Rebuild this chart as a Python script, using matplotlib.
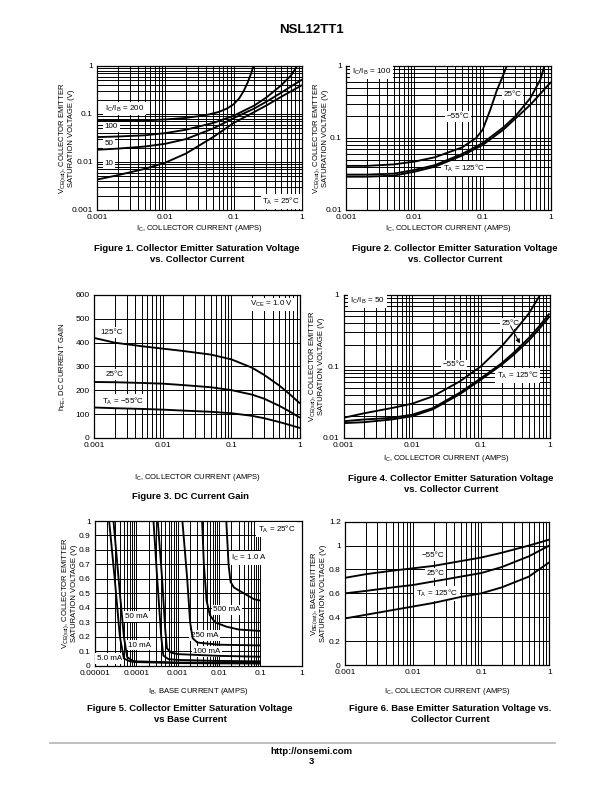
import numpy as np
import matplotlib.pyplot as plt
from matplotlib.ticker import LogLocator, NullFormatter

plt.rcParams['font.family'] = ['Liberation Sans', 'DejaVu Sans']
plt.rcParams['mathtext.default'] = 'regular'

# ---- Figure 1: VCE(sat) vs IC for several IC/IB, TA = 25C
f1_ic_200 = [0.001, 0.002, 0.005, 0.01, 0.02, 0.04, 0.06, 0.08, 0.1, 0.12, 0.14, 0.16, 0.18, 0.195]
f1_v_200 = [0.072, 0.072, 0.074, 0.077, 0.083, 0.095, 0.11, 0.13, 0.16, 0.21, 0.3, 0.45, 0.7, 1.0]
f1_ic_100 = [0.001, 0.002, 0.005, 0.01, 0.02, 0.05, 0.1, 0.2, 0.3, 0.5, 0.7, 0.85]
f1_v_100 = [0.033, 0.034, 0.036, 0.04, 0.047, 0.065, 0.092, 0.15, 0.22, 0.4, 0.65, 1.0]
f1_ic = [0.001, 0.002, 0.005, 0.01, 0.02, 0.05, 0.1, 0.2, 0.3, 0.5, 0.7, 1.0]
f1_v_50 = [0.018, 0.019, 0.021, 0.024, 0.03, 0.05, 0.082, 0.13, 0.18, 0.28, 0.38, 0.52]
f1_v_10 = [0.0043, 0.0053, 0.0072, 0.0097, 0.015, 0.033, 0.065, 0.11, 0.15, 0.23, 0.3, 0.4]

# ---- Figure 2: VCE(sat) vs IC, IC/IB = 100
f2_ic_m55 = [0.001, 0.002, 0.005, 0.01, 0.02, 0.05, 0.08, 0.1, 0.13, 0.16, 0.2, 0.225]
f2_v_m55 = [0.041, 0.041, 0.043, 0.047, 0.054, 0.074, 0.1, 0.13, 0.25, 0.45, 0.75, 1.0]
f2_ic_25 = [0.001, 0.002, 0.005, 0.01, 0.02, 0.05, 0.1, 0.2, 0.3, 0.5, 0.7, 0.8]
f2_v_25 = [0.031, 0.031, 0.032, 0.036, 0.042, 0.06, 0.085, 0.14, 0.2, 0.36, 0.65, 1.0]
f2_ic_125 = [0.001, 0.002, 0.005, 0.01, 0.02, 0.05, 0.1, 0.2, 0.5, 1.0]
f2_v_125 = [0.029, 0.029, 0.03, 0.034, 0.04, 0.057, 0.08, 0.13, 0.29, 0.6]

# ---- Figure 3: DC current gain, VCE = 1.0 V
f3_ic = [0.001, 0.002, 0.005, 0.01, 0.02, 0.05, 0.1, 0.2, 0.3, 0.5, 0.7, 1.0]
f3_h_125 = [420, 400, 385, 375, 365, 350, 330, 295, 265, 220, 185, 145]
f3_h_25 = [235, 234, 231, 228, 222, 213, 201, 182, 165, 135, 112, 85]
f3_h_m55 = [128, 125, 122, 119, 115, 110, 104, 93, 83, 67, 55, 42]

# ---- Figure 4: VCE(sat) vs IC, IC/IB = 50
f4_ic_m55 = [0.001, 0.002, 0.005, 0.01, 0.02, 0.05, 0.1, 0.2, 0.3, 0.5, 0.73]
f4_v_m55 = [0.019, 0.022, 0.026, 0.03, 0.038, 0.062, 0.1, 0.19, 0.3, 0.55, 1.0]
f4_ic = [0.001, 0.002, 0.005, 0.01, 0.02, 0.05, 0.1, 0.2, 0.3, 0.5, 0.7, 1.0]
f4_v_25 = [0.017, 0.018, 0.019, 0.021, 0.026, 0.043, 0.068, 0.11, 0.155, 0.25, 0.36, 0.55]
f4_v_125 = [0.016, 0.0165, 0.018, 0.02, 0.025, 0.041, 0.065, 0.105, 0.145, 0.23, 0.33, 0.5]

# ---- Figure 5: VCE(sat) vs IB, TA = 25C
f5_ib_5ma = [2.2e-5, 3e-5, 4e-5, 5e-5, 7e-5, 1e-4, 1e-3, 0.01, 0.1]
f5_v_5ma = [1.0, 0.6, 0.2, 0.05, 0.03, 0.025, 0.018, 0.016, 0.015]
f5_ib_10ma = [2.8e-5, 4e-5, 5e-5, 6e-5, 8e-5, 1e-4, 1e-3, 0.01, 0.1]
f5_v_10ma = [1.0, 0.5, 0.2, 0.06, 0.035, 0.03, 0.022, 0.021, 0.02]
f5_ib_50ma = [2.6e-4, 3.2e-4, 4e-4, 4.5e-4, 6e-4, 1e-3, 0.01, 0.1]
f5_v_50ma = [1.0, 0.6, 0.2, 0.07, 0.045, 0.04, 0.033, 0.03]
f5_ib_100ma = [3.3e-4, 4.2e-4, 5e-4, 5.5e-4, 7e-4, 1e-3, 0.01, 0.1]
f5_v_100ma = [1.0, 0.6, 0.25, 0.12, 0.09, 0.08, 0.068, 0.062]
f5_ib_250ma = [1.3e-3, 1.7e-3, 2e-3, 2.3e-3, 3e-3, 0.01, 0.1]
f5_v_250ma = [1.0, 0.6, 0.3, 0.19, 0.16, 0.145, 0.14]
f5_ib_500ma = [3.9e-3, 4.3e-3, 5e-3, 6e-3, 8e-3, 0.015, 0.03, 0.1]
f5_v_500ma = [1.0, 0.7, 0.45, 0.35, 0.3, 0.27, 0.25, 0.24]
f5_ib_1a = [0.015, 0.017, 0.019, 0.023, 0.04, 0.07, 0.1]
f5_v_1a = [1.0, 0.7, 0.58, 0.54, 0.5, 0.46, 0.45]

# ---- Figure 6: VBE(sat) vs IC
f6_ic = [0.001, 0.002, 0.005, 0.01, 0.02, 0.05, 0.1, 0.2, 0.5, 1.0]
f6_v_m55 = [0.73, 0.76, 0.79, 0.81, 0.83, 0.87, 0.9, 0.94, 1.0, 1.05]
f6_v_25 = [0.6, 0.62, 0.65, 0.67, 0.7, 0.74, 0.77, 0.82, 0.91, 1.0]
f6_v_125 = [0.39, 0.42, 0.46, 0.49, 0.52, 0.57, 0.6, 0.65, 0.74, 0.86]

ic_ticks = [0.001, 0.01, 0.1, 1]
ic_labels = ['0.001', '0.01', '0.1', '1']
XLAB_IC = 'I$_C$, COLLECTOR CURRENT (AMPS)'
YLAB_CE = 'V$_{CE(sat)}$, COLLECTOR EMITTER\nSATURATION VOLTAGE (V)'

W, H = 612, 792
fig = plt.figure(figsize=(W / 100, H / 100), dpi=100)


def make_axes(x0, y0, x1, y1):
    # pixel box of the plot area -> figure fraction
    return fig.add_axes([x0 / W, 1 - y1 / H, (x1 - x0) / W, (y1 - y0) / H])


def style(ax, xlabel, ylabel, xlab_px, ylab_px, box, ylog=False):
    x0, y0, x1, y1 = box
    ax.set_xscale('log')
    ax.xaxis.set_minor_locator(LogLocator(base=10, subs=np.arange(2, 10), numticks=20))
    ax.xaxis.set_minor_formatter(NullFormatter())
    if ylog:
        ax.set_yscale('log')
        ax.yaxis.set_minor_locator(LogLocator(base=10, subs=np.arange(2, 10), numticks=20))
        ax.yaxis.set_minor_formatter(NullFormatter())
    ax.tick_params(which='both', length=0, labelsize=6, pad=3)
    for sp in ax.spines.values():
        sp.set_linewidth(0.9)
    ax.set_xlabel(xlabel, fontsize=5.5)
    ax.xaxis.set_label_coords(0.5, -(xlab_px - y1) / (y1 - y0))
    ax.xaxis.label.set_va('center')
    ax.set_ylabel(ylabel, fontsize=5.5, linespacing=1.05)
    ax.yaxis.set_label_coords(-(x0 - ylab_px) / (x1 - x0), 0.5)
    ax.yaxis.label.set_va('center')


def tag(ax, x, y, s, ha='left', fs=5.8):
    ax.text(x, y, s, fontsize=fs, ha=ha, va='center', zorder=3,
            bbox=dict(facecolor='white', edgecolor='none', pad=1.2))


def curve(ax, x, y):
    ax.plot(x, y, color='black', lw=1.35, zorder=4, solid_capstyle='butt')


def caption(xc, yc, s):
    fig.text(xc / W, 1 - yc / H, s, fontsize=6.8, fontweight='bold',
             ha='center', va='center', linespacing=1.35)


GRID = dict(color='black', lw=0.7)

# ---------------- Figure 1
box1 = (97, 66, 302, 210)
ax1 = make_axes(*box1)
style(ax1, XLAB_IC, YLAB_CE, 229, 66, box1, ylog=True)
ax1.set_xlim(0.001, 1)
ax1.set_ylim(0.001, 1)
ax1.grid(which='both', **GRID)
ax1.set_xticks(ic_ticks, ic_labels)
ax1.set_yticks([0.001, 0.01, 0.1, 1], ['0.001', '0.01', '0.1', '1'])
curve(ax1, f1_ic_200, f1_v_200)
curve(ax1, f1_ic_100, f1_v_100)
curve(ax1, f1_ic, f1_v_50)
curve(ax1, f1_ic, f1_v_10)
tag(ax1, 0.0013, 0.13, 'I$_C$/I$_B$ = 200')
tag(ax1, 0.0013, 0.054, '100')
tag(ax1, 0.0013, 0.024, '50')
tag(ax1, 0.0013, 0.0092, '10')
tag(ax1, 0.93, 0.0015, 'T$_A$ = 25°C', ha='right')
caption(197, 254, 'Figure 1. Collector Emitter Saturation Voltage\nvs. Collector Current')

# ---------------- Figure 2
box2 = (346, 66, 551, 210)
ax2 = make_axes(*box2)
style(ax2, XLAB_IC, YLAB_CE, 229, 320, box2, ylog=True)
ax2.set_xlim(0.001, 1)
ax2.set_ylim(0.01, 1)
ax2.grid(which='both', **GRID)
ax2.set_xticks(ic_ticks, ic_labels)
ax2.set_yticks([0.01, 0.1, 1], ['0.01', '0.1', '1'])
curve(ax2, f2_ic_m55, f2_v_m55)
curve(ax2, f2_ic_25, f2_v_25)
curve(ax2, f2_ic_125, f2_v_125)
tag(ax2, 0.00122, 0.83, 'I$_C$/I$_B$ = 100')
tag(ax2, 0.2, 0.4, '25°C')
tag(ax2, 0.03, 0.2, '−55°C')
tag(ax2, 0.026, 0.038, 'T$_A$ = 125°C')
caption(455, 254, 'Figure 2. Collector Emitter Saturation Voltage\nvs. Collector Current')

# ---------------- Figure 3
box3 = (94, 295, 300, 438)
ax3 = make_axes(*box3)
style(ax3, XLAB_IC, 'h$_{FE}$, DC CURRENT GAIN', 477.7, 63.3, box3)
ax3.set_xlim(0.001, 1)
ax3.set_ylim(0, 600)
ax3.grid(which='major', **GRID)
ax3.grid(which='minor', axis='x', **GRID)
ax3.set_xticks(ic_ticks, ic_labels)
ax3.set_yticks(np.arange(0, 601, 100))
curve(ax3, f3_ic, f3_h_125)
curve(ax3, f3_ic, f3_h_25)
curve(ax3, f3_ic, f3_h_m55)
tag(ax3, 0.00125, 442, '125°C')
tag(ax3, 0.00148, 267, '25°C')
tag(ax3, 0.0013, 152, 'T$_A$ = −55°C')
tag(ax3, 0.8, 561, 'V$_{CE}$ = 1.0 V', ha='right')
caption(190, 497, 'Figure 3. DC Current Gain')

# ---------------- Figure 4
box4 = (343.5, 295, 549.5, 437.7)
ax4 = make_axes(*box4)
style(ax4, XLAB_IC, YLAB_CE, 459, 316, box4, ylog=True)
ax4.set_xlim(0.001, 1)
ax4.set_ylim(0.01, 1)
ax4.grid(which='both', **GRID)
ax4.set_xticks(ic_ticks, ic_labels)
ax4.set_yticks([0.01, 0.1, 1], ['0.01', '0.1', '1'])
curve(ax4, f4_ic_m55, f4_v_m55)
curve(ax4, f4_ic, f4_v_25)
curve(ax4, f4_ic, f4_v_125)
tag(ax4, 0.00125, 0.82, 'I$_C$/I$_B$ = 50')
tag(ax4, 0.2, 0.4, '25°C')
ax4.annotate('', xy=(0.37, 0.21), xytext=(0.27, 0.37), zorder=5,
             arrowprops=dict(arrowstyle='-|>', color='black', lw=0.7,
                             mutation_scale=6, shrinkA=0, shrinkB=0))
tag(ax4, 0.028, 0.105, '−55°C')
tag(ax4, 0.17, 0.074, 'T$_A$ = 125°C')
caption(451, 484, 'Figure 4. Collector Emitter Saturation Voltage\nvs. Collector Current')

# ---------------- Figure 5
box5 = (95, 521, 301.7, 665.7)
ax5 = make_axes(*box5)
style(ax5, 'I$_B$, BASE CURRENT (AMPS)', YLAB_CE, 691.7, 69, box5)
ax5.set_xlim(1e-5, 1)
ax5.set_ylim(0, 1)
# grid only spans up to 0.1 A on this chart
grid_x = [m * 10.0 ** e for e in range(-5, -1) for m in range(1, 10)] + [0.1]
ax5.vlines(grid_x, 0, 1, colors='black', lw=0.7, zorder=1)
ax5.hlines(np.arange(0.1, 1.0, 0.1), 1e-5, 0.1, colors='black', lw=0.7, zorder=1)
ax5.set_xticks([1e-5, 1e-4, 1e-3, 0.01, 0.1, 1],
               ['0.00001', '0.0001', '0.001', '0.01', '0.1', '1'])
ax5.set_yticks(np.round(np.arange(0, 1.01, 0.1), 1),
               ['0', '0.1', '0.2', '0.3', '0.4', '0.5', '0.6', '0.7', '0.8', '0.9', '1'])
curve(ax5, f5_ib_5ma, f5_v_5ma)
curve(ax5, f5_ib_10ma, f5_v_10ma)
curve(ax5, f5_ib_50ma, f5_v_50ma)
curve(ax5, f5_ib_100ma, f5_v_100ma)
curve(ax5, f5_ib_250ma, f5_v_250ma)
curve(ax5, f5_ib_500ma, f5_v_500ma)
curve(ax5, f5_ib_1a, f5_v_1a)
tag(ax5, 0.69, 0.943, 'T$_A$ = 25°C', ha='right')
tag(ax5, 0.02, 0.746, 'I$_C$ = 1.0 A')
tag(ax5, 0.0073, 0.385, '500 mA')
tag(ax5, 0.0021, 0.21, '250 mA')
tag(ax5, 0.0024, 0.097, '100 mA')
tag(ax5, 5.3e-5, 0.34, '50 mA')
tag(ax5, 6.4e-5, 0.143, '10 mA')
tag(ax5, 1.1e-5, 0.05, '5.0 mA')
caption(190, 714, 'Figure 5. Collector Emitter Saturation Voltage\nvs Base Current')

# ---------------- Figure 6
box6 = (345, 521.7, 549.3, 665)
ax6 = make_axes(*box6)
style(ax6, XLAB_IC, 'V$_{BE(sat)}$, BASE EMITTER\nSATURATION VOLTAGE (V)', 691.7, 318, box6)
ax6.set_xlim(0.001, 1)
ax6.set_ylim(0, 1.2)
ax6.grid(which='major', **GRID)
ax6.grid(which='minor', axis='x', **GRID)
ax6.set_xticks(ic_ticks, ic_labels)
ax6.set_yticks([0, 0.2, 0.4, 0.6, 0.8, 1.0, 1.2], ['0', '0.2', '0.4', '0.6', '0.8', '1', '1.2'])
curve(ax6, f6_ic, f6_v_m55)
curve(ax6, f6_ic, f6_v_25)
curve(ax6, f6_ic, f6_v_125)
tag(ax6, 0.0134, 0.915, '−55°C')
tag(ax6, 0.0158, 0.77, '25°C')
tag(ax6, 0.011, 0.6, 'T$_A$ = 125°C')
caption(450, 714, 'Figure 6. Base Emitter Saturation Voltage vs.\nCollector Current')

# ---------------- page header / footer
fig.text(311 / W, 1 - 30 / H, 'NSL12TT1', fontsize=9.5, fontweight='bold',
         ha='center', va='center')
fig.add_artist(plt.Line2D([50 / W, 555 / W], [1 - 742.5 / H, 1 - 742.5 / H],
                          color='#b4b4b4', lw=1.2))
fig.text(311 / W, 1 - 752 / H, 'http://onsemi.com', fontsize=6.8, fontweight='bold',
         ha='center', va='center')
fig.text(311 / W, 1 - 761 / H, '3', fontsize=6.8, fontweight='bold',
         ha='center', va='center')

fig.savefig('out.png', dpi=100)
